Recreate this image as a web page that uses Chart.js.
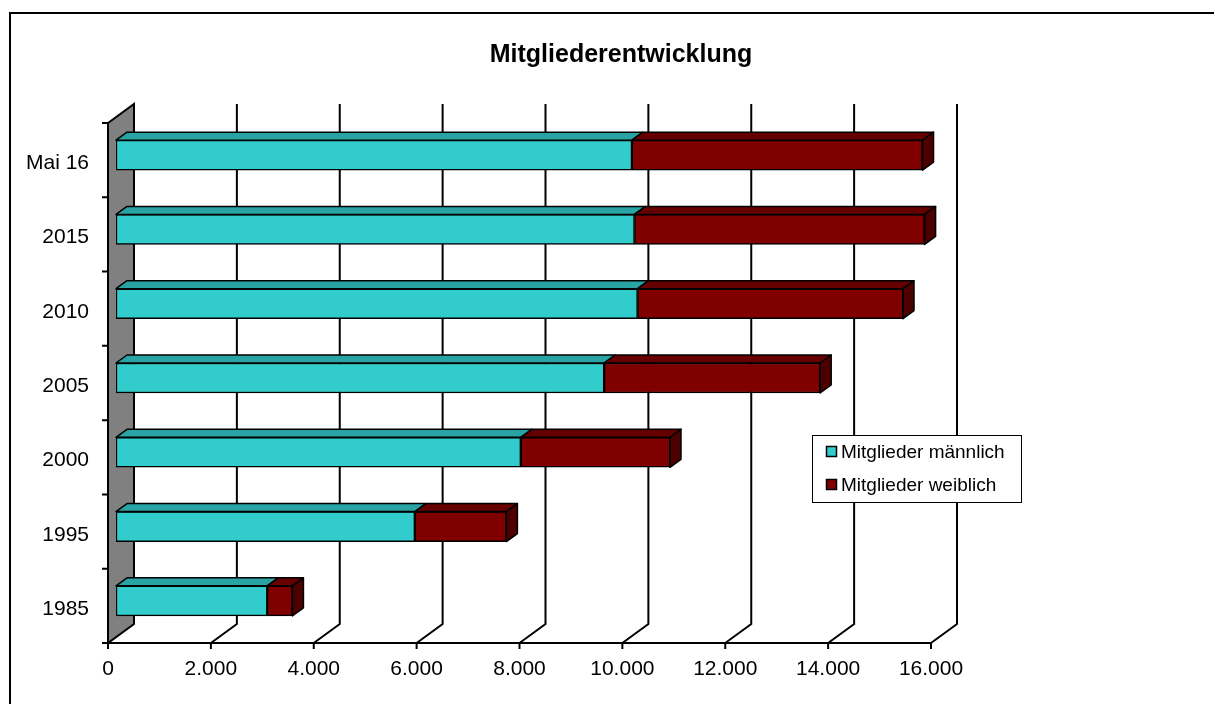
<!DOCTYPE html>
<html>
<head>
<meta charset="utf-8">
<script src="https://cdn.jsdelivr.net/npm/chart.js@4"></script>
<style>
  html, body { margin: 0; padding: 0; background: #fff; }
  canvas { display: block; }
</style>
</head>
<body>
<canvas id="memberChart" width="1215" height="704"></canvas>
<script>
const categories = ["Mai 16", "2015", "2010", "2005", "2000", "1995", "1985"];
const maleMembers = [10030, 10080, 10140, 9490, 7870, 5810, 2940];
const femaleMembers = [5650, 5640, 5160, 4200, 2900, 1780, 490];
const xTickValues = [0, 2000, 4000, 6000, 8000, 10000, 12000, 14000, 16000];
const xTickLabels = ["0", "2.000", "4.000", "6.000", "8.000", "10.000", "12.000", "14.000", "16.000"];

const FONT = '"Liberation Sans", Arial, sans-serif';
// depth offsets of the back wall and of the bars
const WALL_DX = 26, WALL_DY = -19;
const BAR_SHIFT_X = 8, BAR_SHIFT_Y = -5;
const BAR_DX = 11, BAR_DY = -8;

const topColors = ["#29a3a3", "#660000"];
const sideColors = ["#208080", "#4d0000"];

function poly(ctx, pts, fill) {
  ctx.beginPath();
  ctx.moveTo(pts[0][0], pts[0][1]);
  for (let i = 1; i < pts.length; i++) ctx.lineTo(pts[i][0], pts[i][1]);
  ctx.closePath();
  if (fill) {
    ctx.fillStyle = fill;
    ctx.fill();
  }
  ctx.stroke();
}

const excel3d = {
  id: "excel3d",
  beforeDraw(chart) {
    const ctx = chart.ctx;
    ctx.save();
    ctx.fillStyle = "#fff";
    ctx.fillRect(0, 0, chart.width, chart.height);
    // outer frame (only top and left visible)
    ctx.strokeStyle = "#000";
    ctx.lineWidth = 2;
    ctx.beginPath();
    ctx.moveTo(10, chart.height);
    ctx.lineTo(10, 13);
    ctx.lineTo(1214, 13);
    ctx.stroke();
    // title
    ctx.fillStyle = "#000";
    ctx.font = "bold 25px " + FONT;
    ctx.textAlign = "center";
    ctx.textBaseline = "alphabetic";
    ctx.fillText("Mitgliederentwicklung", 621, 62);
    ctx.restore();
  },
  beforeDatasetsDraw(chart) {
    const ctx = chart.ctx;
    const xs = chart.scales.x;
    const ys = chart.scales.y;
    const a = chart.chartArea;
    ctx.save();
    ctx.strokeStyle = "#000";
    ctx.lineWidth = 2;

    // side wall
    poly(ctx, [
      [a.left, a.top],
      [a.left + WALL_DX, a.top + WALL_DY],
      [a.left + WALL_DX, a.bottom + WALL_DY],
      [a.left, a.bottom]
    ], "#808080");

    // back grid lines with floor diagonals
    xTickValues.forEach(v => {
      if (v === 0) return;
      const x = xs.getPixelForValue(v);
      ctx.beginPath();
      ctx.moveTo(x, a.bottom);
      ctx.lineTo(x + WALL_DX, a.bottom + WALL_DY);
      ctx.lineTo(x + WALL_DX, a.top + WALL_DY);
      ctx.stroke();
    });

    // value axis
    ctx.beginPath();
    ctx.moveTo(a.left, a.bottom);
    ctx.lineTo(xs.getPixelForValue(16000), a.bottom);
    xTickValues.forEach(v => {
      const x = xs.getPixelForValue(v);
      ctx.moveTo(x, a.bottom);
      ctx.lineTo(x, a.bottom + 6);
    });
    ctx.stroke();

    // category axis
    const band = ys.getPixelForValue(1) - ys.getPixelForValue(0);
    ctx.beginPath();
    ctx.moveTo(a.left, a.top);
    ctx.lineTo(a.left, a.bottom);
    for (let i = 0; i <= categories.length; i++) {
      const y = ys.getPixelForValue(i) - band / 2;
      ctx.moveTo(a.left - 6, y);
      ctx.lineTo(a.left, y);
    }
    ctx.stroke();

    // labels
    ctx.fillStyle = "#000";
    ctx.font = "21px " + FONT;
    ctx.textBaseline = "alphabetic";
    ctx.textAlign = "right";
    categories.forEach((c, i) => {
      ctx.fillText(c, a.left - 19, ys.getPixelForValue(i) + 9);
    });
    ctx.textAlign = "center";
    xTickValues.forEach((v, i) => {
      ctx.fillText(xTickLabels[i], xs.getPixelForValue(v), a.bottom + 32);
    });
    ctx.restore();

    // bars sit a bit behind the front plane
    ctx.save();
    ctx.translate(BAR_SHIFT_X, BAR_SHIFT_Y);
  },
  afterDatasetsDraw(chart) {
    const ctx = chart.ctx;
    ctx.strokeStyle = "#000";
    ctx.lineWidth = 1.5;
    ctx.lineJoin = "round";
    const n = chart.data.datasets.length;
    for (let d = 0; d < n; d++) {
      const meta = chart.getDatasetMeta(d);
      meta.data.forEach(bar => {
        const p = bar.getProps(["x", "y", "base", "height"], true);
        const top = p.y - p.height / 2;
        const bottom = p.y + p.height / 2;
        poly(ctx, [
          [p.base, top],
          [p.x, top],
          [p.x + BAR_DX, top + BAR_DY],
          [p.base + BAR_DX, top + BAR_DY]
        ], topColors[d]);
        if (d === n - 1) {
          poly(ctx, [
            [p.x, top],
            [p.x + BAR_DX, top + BAR_DY],
            [p.x + BAR_DX, bottom + BAR_DY],
            [p.x, bottom]
          ], sideColors[d]);
        }
      });
    }
    ctx.restore();
  },
  afterDraw(chart) {
    const ctx = chart.ctx;
    ctx.save();
    ctx.strokeStyle = "#000";
    ctx.lineWidth = 1;
    ctx.fillStyle = "#fff";
    ctx.fillRect(812.5, 435.5, 209, 67);
    ctx.strokeRect(812.5, 435.5, 209, 67);
    ctx.font = "19px " + FONT;
    ctx.textAlign = "left";
    ctx.textBaseline = "middle";
    chart.data.datasets.forEach((ds, i) => {
      const y = 452 + i * 33;
      ctx.lineWidth = 1.5;
      ctx.fillStyle = ds.backgroundColor;
      ctx.fillRect(826.5, y - 5.5, 10, 10);
      ctx.strokeRect(826.5, y - 5.5, 10, 10);
      ctx.fillStyle = "#000";
      ctx.fillText(ds.label, 841, y + 1);
    });
    ctx.restore();
  }
};

new Chart(document.getElementById("memberChart"), {
  type: "bar",
  data: {
    labels: categories,
    datasets: [
      {
        label: "Mitglieder männlich",
        data: maleMembers,
        backgroundColor: "#33cccc",
        borderColor: "#000",
        borderWidth: 1.5,
        borderSkipped: false,
        barThickness: 30
      },
      {
        label: "Mitglieder weiblich",
        data: femaleMembers,
        backgroundColor: "#800000",
        borderColor: "#000",
        borderWidth: 1.5,
        borderSkipped: false,
        barThickness: 30
      }
    ]
  },
  options: {
    indexAxis: "y",
    responsive: false,
    animation: false,
    devicePixelRatio: 1,
    layout: {
      padding: { left: 108, right: 284, top: 123, bottom: 61 }
    },
    scales: {
      x: { type: "linear", min: 0, max: 16000, stacked: true, display: false },
      y: { stacked: true, display: false }
    },
    plugins: {
      legend: { display: false },
      title: { display: false },
      tooltip: { enabled: false }
    }
  },
  plugins: [excel3d]
});
</script>
</body>
</html>
